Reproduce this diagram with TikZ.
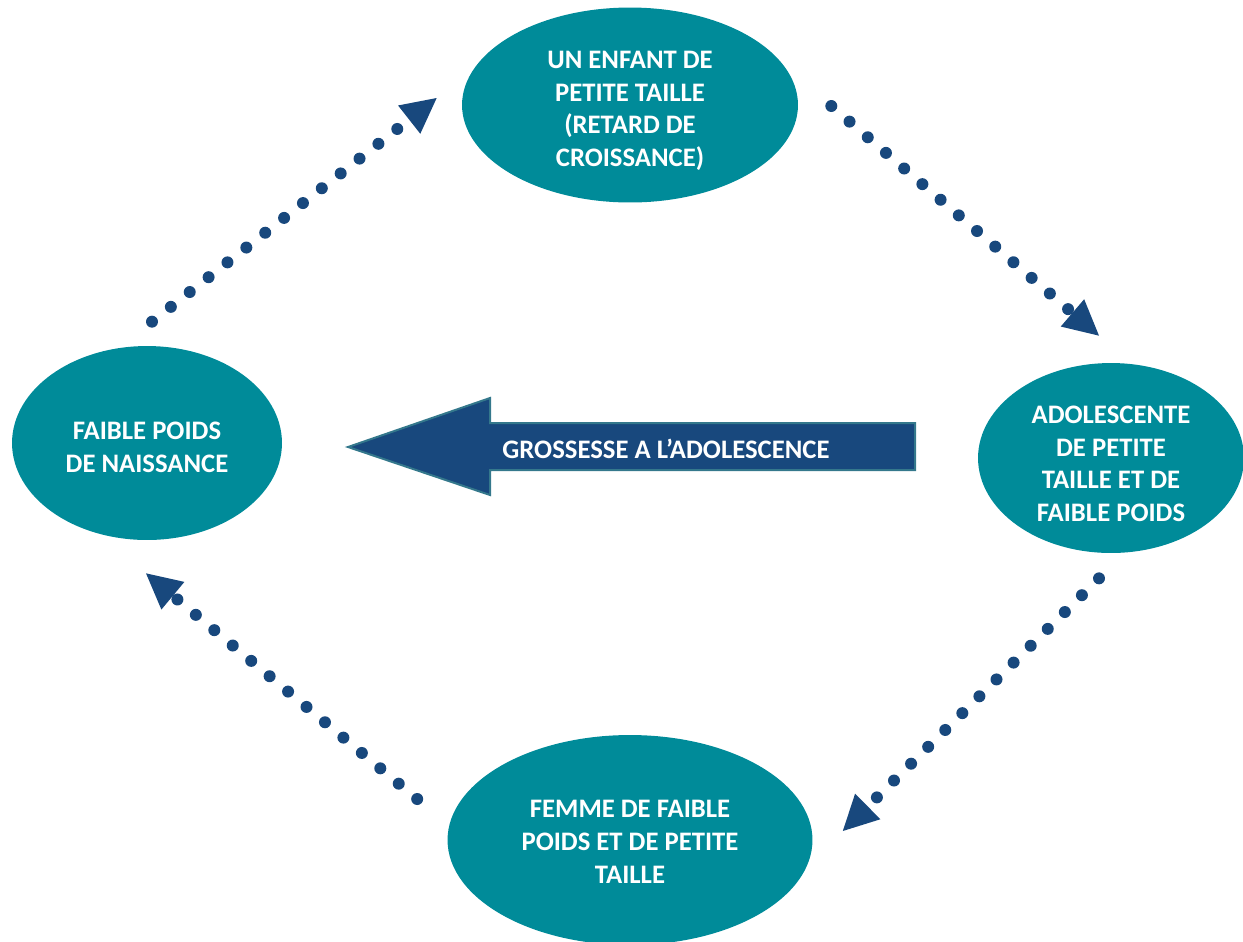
\documentclass[tikz,border=0pt]{standalone}
\usepackage{fontspec}
\setmainfont{Carlito}
\usepackage{xcolor}
\usetikzlibrary{shapes.geometric,arrows.meta}

\definecolor{cycleteal}{RGB}{0,139,153}
\definecolor{cycleblue}{RGB}{24,72,125}
\definecolor{arrowedge}{RGB}{52,120,140}

\begin{document}
\begin{tikzpicture}[x=0.02cm,y=-0.02cm,
  stage/.style={ellipse,fill=cycleteal,text=white,inner sep=0pt,align=center,
    font=\bfseries\fontsize{15.2}{18.6}\selectfont},
  dotarrow/.style={cycleblue,line width=0.24cm,line cap=round,
    dash pattern=on 0pt off 0.48cm,
    -{Triangle[length=0.7cm 0,width=0.72cm 0,line width=0pt]}},
  bigarrow/.style={fill=cycleblue,draw=arrowedge,line width=0.04cm}]

\useasboundingbox (0,0) rectangle (1243,941);
\clip (0,0) rectangle (1243,941);

% the four stages of the cycle
\node[stage,minimum width=6.72cm,minimum height=3.9cm] (enfant) at (630,105)
  {\rule{0pt}{16.5pt}UN ENFANT DE\\PETITE TAILLE\\(RETARD DE\\CROISSANCE)};
\node[stage,minimum width=5.32cm,minimum height=3.8cm] (ado) at (1111,458)
  {\rule{0pt}{16.5pt}ADOLESCENTE\\DE PETITE\\TAILLE ET DE\\FAIBLE POIDS};
\node[stage,minimum width=7.3cm,minimum height=4.2cm] (femme) at (630,840)
  {\rule{0pt}{12pt}FEMME DE FAIBLE\\POIDS ET DE PETITE\\TAILLE};
\node[stage,minimum width=5.4cm,minimum height=3.88cm] (naiss) at (147,443)
  {\rule{0pt}{14.8pt}FAIBLE POIDS\\DE NAISSANCE};

% dotted arrows round the cycle
\draw[dotarrow] ([shift={(5,-24)}]naiss.north) -- ([shift={(-25,-7)}]enfant.west);
\draw[dotarrow] ([shift={(33,1)}]enfant.east) -- ([shift={(-12,-27)}]ado.north);
\draw[dotarrow] ([shift={(-12,25)}]ado.south) -- ([shift={(30,-9)}]femme.east);
\draw[dotarrow] ([shift={(-30,-41)}]femme.west) -- ([shift={(-1,33)}]naiss.south);

% big arrow in the middle
\draw[bigarrow] (915,423) -- (490,423) -- (490,398) -- (348,447)
  -- (490,495) -- (490,470) -- (915,470) -- cycle;
\node[text=white,font=\bfseries\fontsize{15.2}{18.6}\selectfont] (gross) at (666,449)
  {GROSSESSE A L’ADOLESCENCE};
\end{tikzpicture}
\end{document}
